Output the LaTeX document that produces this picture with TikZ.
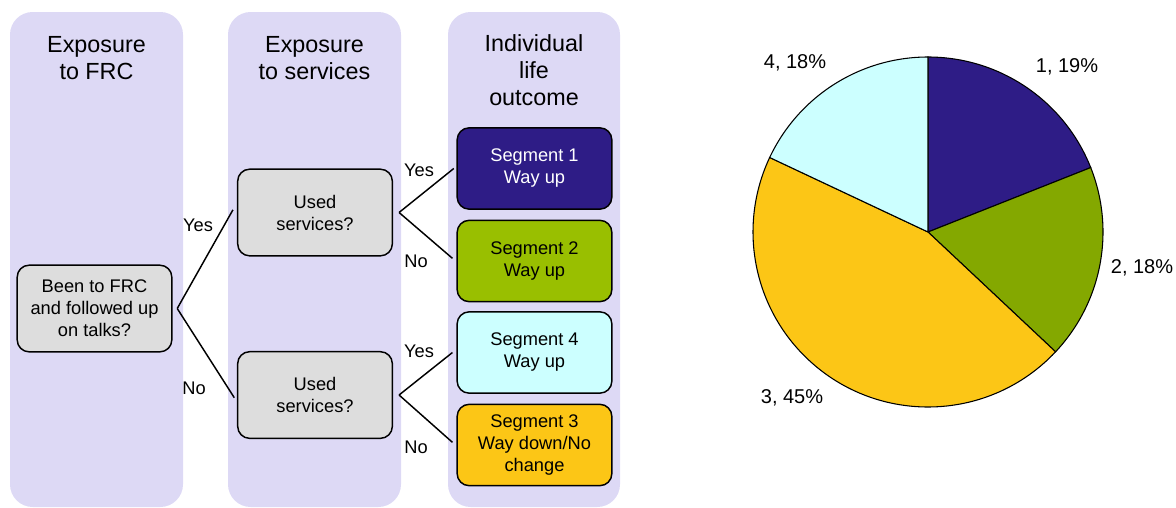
\documentclass[tikz,border=0pt]{standalone}
\usepackage{fontspec}
\setmainfont{Liberation Sans}
\definecolor{lanefill}{RGB}{221,217,245}
\definecolor{boxgray}{RGB}{221,221,221}
\definecolor{segone}{RGB}{46,28,134}
\definecolor{segtwo}{RGB}{153,191,0}
\definecolor{pietwo}{RGB}{132,168,0}
\definecolor{segfour}{RGB}{204,255,255}
\definecolor{segthree}{RGB}{252,198,22}
\begin{document}
\begin{tikzpicture}[x=0.75pt, y=0.75pt]
        \tikzstyle{lane}=[fill=lanefill, rounded corners=17pt]
        \tikzstyle{title}=[align=center, font=\fontsize{17.5}{20.5}\selectfont]
        \tikzstyle{question}=[draw, rectangle, rounded corners=9pt, fill=boxgray, line width=1.1pt, minimum width=116pt, minimum height=65pt, align=center, font=\fontsize{13.7}{16.5}\selectfont]
        \tikzstyle{segment}=[question, minimum height=61pt]
        \tikzstyle{answer}=[font=\fontsize{13.7}{16.5}\selectfont]
        \tikzstyle{branch}=[line width=1.1pt]
        \tikzstyle{slice}=[draw, line width=0.8pt]
        \tikzstyle{share}=[font=\fontsize{15}{17}\selectfont]

        \useasboundingbox (0,0) rectangle (1176,-507);

        \fill[lane] (10,-12) rectangle (183,-507);
        \fill[lane] (228,-12) rectangle (401,-507);
        \fill[lane] (448,-12) rectangle (620,-507);

        \node[title] (T_1) at (96.5,-58) {Exposure\\to FRC};
        \node[title] (T_2) at (314.5,-58) {Exposure\\to services};
        \node[title] (T_3) at (534,-70) {Individual\\life\\outcome};

        \node[question] (Q_0) at (94.5,-308.5) {Been to FRC\\and followed up\\on talks?};
        \node[question] (Q_1) at (315,-212.5) {Used\\services?};
        \node[question] (Q_2) at (315,-395) {Used\\services?};

        \node[segment, fill=segone, text=white] (S_1) at (534.5,-168.5) {Segment 1\\Way up};
        \node[segment, fill=segtwo] (S_2) at (534.5,-261) {Segment 2\\Way up};
        \node[segment, fill=segfour] (S_4) at (534.5,-352.5) {Segment 4\\Way up};
        \node[segment, fill=segthree] (S_3) at (534.5,-445) {Segment 3\\Way down/No\\change};

        \draw[branch] ([xshift=3.5pt]Q_0.east) -- ([xshift=-3pt,yshift=2pt]Q_1.west);
        \draw[branch] ([xshift=3.5pt]Q_0.east) -- ([xshift=-2pt,yshift=-2pt]Q_2.west);
        \draw[branch] ([xshift=4.5pt]Q_1.east) -- ([xshift=-2pt]S_1.west);
        \draw[branch] ([xshift=4.5pt]Q_1.east) -- ([xshift=-3pt,yshift=2pt]S_2.west);
        \draw[branch] ([xshift=4.5pt]Q_2.east) -- ([xshift=-3pt]S_4.west);
        \draw[branch] ([xshift=4.5pt]Q_2.east) -- ([xshift=-3pt,yshift=2pt]S_3.west);

        \node[answer] (A_1) at (198,-225) {Yes};
        \node[answer] (A_2) at (194,-388) {No};
        \node[answer] (A_3) at (419,-170) {Yes};
        \node[answer] (A_4) at (416,-261) {No};
        \node[answer] (A_5) at (419,-351) {Yes};
        \node[answer] (A_6) at (416,-447) {No};

        % pie of the four segments
        \coordinate (P) at (928,-232);
        \filldraw[slice, fill=segone] (P) -- ++(90:131.25pt) arc[start angle=90, end angle=21.6, radius=131.25pt] -- cycle;
        \filldraw[slice, fill=pietwo] (P) -- ++(21.6:131.25pt) arc[start angle=21.6, end angle=-43.2, radius=131.25pt] -- cycle;
        \filldraw[slice, fill=segthree] (P) -- ++(-43.2:131.25pt) arc[start angle=-43.2, end angle=-205.2, radius=131.25pt] -- cycle;
        \filldraw[slice, fill=segfour] (P) -- ++(154.8:131.25pt) arc[start angle=154.8, end angle=90, radius=131.25pt] -- cycle;

        \node[share] (L_1) at (1067,-67) {1, 19\%};
        \node[share] (L_2) at (1142,-268) {2, 18\%};
        \node[share] (L_3) at (792,-398) {3, 45\%};
        \node[share] (L_4) at (795,-63) {4, 18\%};
\end{tikzpicture}
\end{document}
